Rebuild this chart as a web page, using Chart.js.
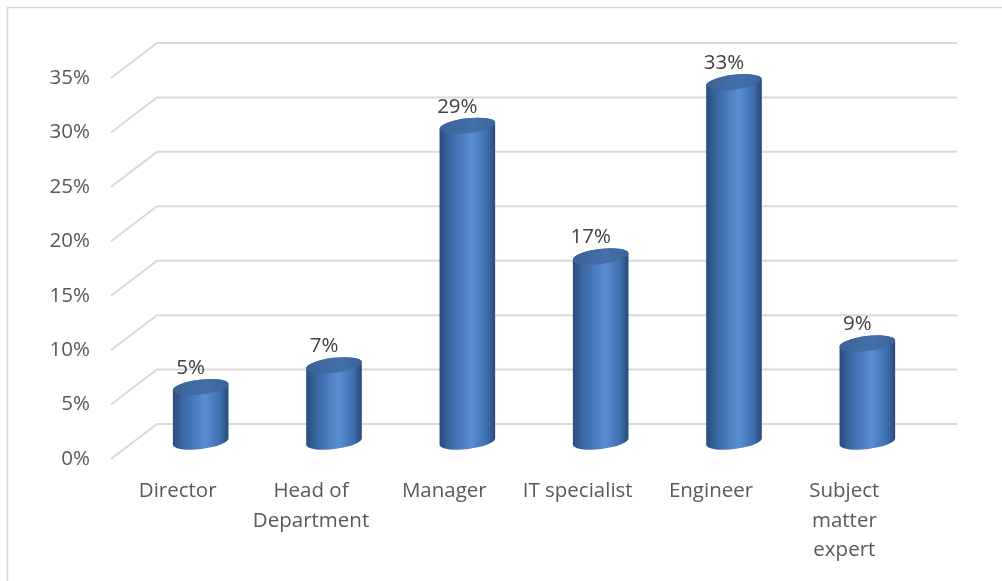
<!DOCTYPE html>
<html>
<head>
<meta charset="utf-8">
<script src="https://cdn.jsdelivr.net/npm/chart.js@4/dist/chart.umd.min.js"></script>
<style>
  html, body { margin: 0; padding: 0; background: #fff; }
  .wrap { width: 1002px; height: 581px; position: relative; }
</style>
</head>
<body>
<div class="wrap"><canvas id="chart"></canvas></div>
<script>
const categories = [
    ['Director'],
    ['Head of', 'Department'],
    ['Manager'],
    ['IT specialist'],
    ['Engineer'],
    ['Subject', 'matter', 'expert']
];
const shares = [0.05, 0.07, 0.29, 0.17, 0.33, 0.09];
const yTicks = [0, 0.05, 0.10, 0.15, 0.20, 0.25, 0.30, 0.35];

// oblique depth of the 3d floor / back wall
const DEPTH_X = 46;
const DEPTH_Y = 35;
const TILT = -0.12;
const RX = 28;
const RY = 7.5;

const pct = v => Math.round(v * 100) + '%';

function drawCylinder(ctx, cx, top, base) {
    const body = ctx.createLinearGradient(cx - RX, 0, cx + RX, 0);
    body.addColorStop(0, '#294b7a');
    body.addColorStop(0.18, '#3a67a2');
    body.addColorStop(0.58, '#5a8ed3');
    body.addColorStop(0.85, '#3e6fad');
    body.addColorStop(1, '#274877');

    ctx.beginPath();
    ctx.ellipse(cx, top, RX, RY, TILT, Math.PI, 2 * Math.PI);
    ctx.ellipse(cx, base, RX, RY, TILT, 0, Math.PI);
    ctx.closePath();
    ctx.fillStyle = body;
    ctx.fill();

    const lid = ctx.createLinearGradient(cx - RX, 0, cx + RX, 0);
    lid.addColorStop(0, '#3a6298');
    lid.addColorStop(0.6, '#4370aa');
    lid.addColorStop(1, '#3a639a');
    ctx.beginPath();
    ctx.ellipse(cx, top, RX, RY, TILT, 0, 2 * Math.PI);
    ctx.fillStyle = lid;
    ctx.fill();
}

const cylinders = {
    id: 'cylinders',
    beforeDatasetsDraw(chart) {
        const { ctx, chartArea: a, scales: { y } } = chart;
        ctx.save();
        // frame
        ctx.strokeStyle = '#d6d6d6';
        ctx.lineWidth = 1.5;
        ctx.beginPath();
        ctx.moveTo(7.5, chart.height);
        ctx.lineTo(7.5, 7.5);
        ctx.lineTo(chart.width, 7.5);
        ctx.stroke();
        // floor edge + back wall gridlines
        ctx.strokeStyle = '#d9d9d9';
        ctx.lineWidth = 2;
        yTicks.forEach(v => {
            const py = y.getPixelForValue(v);
            ctx.beginPath();
            ctx.moveTo(a.left, py);
            ctx.lineTo(a.left + DEPTH_X, py - DEPTH_Y);
            ctx.lineTo(a.right + DEPTH_X, py - DEPTH_Y);
            ctx.stroke();
        });
        ctx.restore();
    },
    afterDatasetsDraw(chart) {
        const { ctx, scales: { x, y } } = chart;
        const base = y.getPixelForValue(0) - DEPTH_Y / 2;
        ctx.save();
        shares.forEach((v, i) => {
            const cx = x.getPixelForValue(i) + DEPTH_X / 2;
            const top = y.getPixelForValue(v) - DEPTH_Y / 2;
            drawCylinder(ctx, cx, top, base);

            ctx.fillStyle = '#404040';
            ctx.font = '20.5px "Open Sans"';
            ctx.textAlign = 'center';
            ctx.textBaseline = 'middle';
            ctx.fillText(pct(v), cx - 10, top - 19);
        });
        ctx.restore();
    }
};

new Chart(document.getElementById('chart'), {
    type: 'bar',
    data: {
        labels: categories,
        datasets: [{
            data: shares,
            backgroundColor: 'rgba(0,0,0,0)',
            borderWidth: 0
        }]
    },
    options: {
        responsive: true,
        maintainAspectRatio: false,
        animation: false,
        layout: {
            padding: { top: 78, right: 91, left: 0, bottom: 0 }
        },
        scales: {
            x: {
                grid: { display: false, drawTicks: false },
                border: { display: false },
                afterFit(s) { s.height = 122; },
                ticks: {
                    color: '#595959',
                    font: { family: 'Open Sans', size: 20.5, lineHeight: 1.42 },
                    padding: 18,
                    maxRotation: 0,
                    autoSkip: false
                }
            },
            y: {
                min: 0,
                max: 0.35,
                grid: { display: false, drawTicks: false },
                border: { display: false },
                afterFit(s) { s.width = 111; },
                afterBuildTicks(s) { s.ticks = yTicks.map(v => ({ value: v })); },
                ticks: {
                    color: '#595959',
                    font: { family: 'Open Sans', size: 20.5 },
                    padding: 21,
                    callback: v => pct(v)
                }
            }
        },
        plugins: {
            legend: { display: false },
            tooltip: { enabled: false }
        }
    },
    plugins: [cylinders]
});
</script>
</body>
</html>
